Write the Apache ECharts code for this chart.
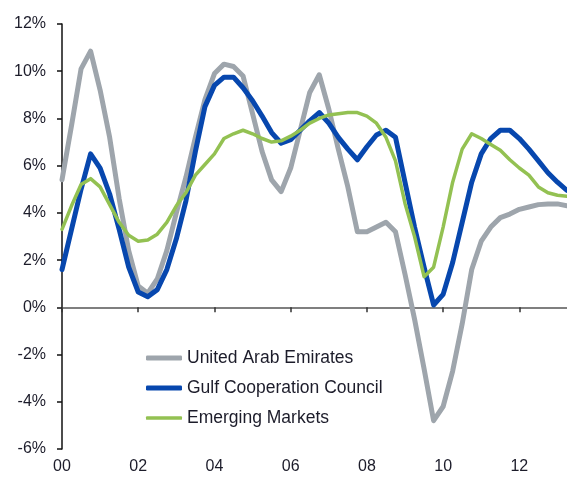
<!DOCTYPE html>
<html>
<head>
<meta charset="utf-8">
<script src="https://cdn.jsdelivr.net/npm/echarts@6/dist/echarts.min.js"></script>
<style>
html,body{margin:0;padding:0;background:#fff;}
#chart{width:567px;height:477px;}
</style>
</head>
<body>
<div id="chart"></div>
<script>
// Year tick labels (quarterly data, 2000Q1 - 2013Q2)
var yearLabels = ['00','01','02','03','04','05','06','07','08','09','10','11','12','13'];
var quarterNames = ['Q1','Q2','Q3','Q4'];
var quarters = [];
yearLabels.forEach(function (y, i) {
  var n = (i === yearLabels.length - 1) ? 2 : 4;
  for (var q = 0; q < n; q++) quarters.push(y + quarterNames[q]);
});

var seriesNames = ['United Arab Emirates', 'Gulf Cooperation Council', 'Emerging Markets'];

// United Arab Emirates (% y/y)
var uae = [5.4, 7.7, 10.1, 10.85, 9.2, 7.2, 4.6, 2.4,
           0.9, 0.6, 1.2, 2.4, 4.0, 5.5, 7.2, 8.8,
           9.9, 10.3, 10.2, 9.8, 8.2, 6.6, 5.4, 4.9,
           5.9, 7.5, 9.1, 9.85, 8.4, 6.7, 5.1, 3.2,
           3.2, 3.4, 3.6, 3.2, 1.4, -0.5, -2.6, -4.8,
           -4.2, -2.7, -0.7, 1.6, 2.8, 3.4, 3.8, 3.95,
           4.15, 4.25, 4.35, 4.38, 4.38, 4.3];

// Gulf Cooperation Council
var gcc = [1.6, 3.3, 5.0, 6.5, 5.9, 4.8, 3.3, 1.7,
           0.65, 0.45, 0.75, 1.6, 2.9, 4.5, 6.6, 8.5,
           9.4, 9.75, 9.75, 9.3, 8.75, 8.1, 7.4, 6.95,
           7.1, 7.5, 7.9, 8.25, 7.8, 7.2, 6.7, 6.25,
           6.8, 7.3, 7.5, 7.2, 5.3, 3.4, 1.7, 0.1,
           0.55, 1.9, 3.6, 5.3, 6.5, 7.15, 7.5, 7.5,
           7.15, 6.7, 6.2, 5.7, 5.3, 4.95];

// Emerging Markets
var em = [3.3, 4.3, 5.2, 5.45, 5.1, 4.35, 3.6, 3.05,
          2.8, 2.85, 3.1, 3.6, 4.3, 4.85, 5.6, 6.05,
          6.5, 7.15, 7.35, 7.5, 7.35, 7.15, 7.0, 7.05,
          7.25, 7.5, 7.8, 8.0, 8.15, 8.2, 8.25, 8.25,
          8.1, 7.8, 7.2, 6.2, 4.4, 3.0, 1.3, 1.7,
          3.4, 5.3, 6.7, 7.35, 7.15, 6.9, 6.65, 6.25,
          5.9, 5.6, 5.1, 4.85, 4.75, 4.7];

var colors = ['#9ea5ac', '#0747ae', '#93c152'];
var widths = [5, 5, 3.5];
var textColor = '#1c1c2a';
var fontFamily = '"Liberation Sans", Arial, sans-serif';

function isTick(index) { return index % 8 === 0; }

var chart = echarts.init(document.getElementById('chart'), null, {renderer: 'canvas'});

function legendFor(i, top, h) {
  return {
    data: [seriesNames[i]],
    left: 146,
    top: top,
    padding: 0,
    icon: 'roundRect',
    itemWidth: 36,
    itemHeight: h,
    selectedMode: false,
    textStyle: {fontSize: 17.5, color: textColor, fontFamily: fontFamily}
  };
}

var option = {
  animation: false,
  backgroundColor: '#ffffff',
  color: colors,
  grid: {left: 62, right: 0, top: 24, bottom: 28, containLabel: false},
  legend: [legendFor(0, 349, 5), legendFor(1, 379, 5), legendFor(2, 409, 3.5)],
  xAxis: [
    {
      type: 'category', data: quarters, boundaryGap: false, position: 'bottom',
      axisLine: {show: false, onZero: false},
      axisTick: {show: false},
      splitLine: {show: false},
      axisLabel: {
        interval: function (index) { return isTick(index); },
        formatter: function (v) { return v.slice(0, 2); },
        margin: 10, fontSize: 16, color: textColor, fontFamily: fontFamily
      }
    },
    {
      type: 'category', data: quarters, boundaryGap: false, position: 'bottom',
      axisLine: {show: true, onZero: true, lineStyle: {color: '#555', width: 1.5}},
      axisTick: {show: true, interval: function (index) { return isTick(index); }, length: 5, lineStyle: {color: '#333', width: 1.5}},
      axisLabel: {show: false},
      splitLine: {show: false}
    }
  ],
  yAxis: {
    type: 'value', min: -6, max: 12, interval: 2,
    axisLine: {show: true, lineStyle: {color: '#111', width: 1.5}},
    axisTick: {show: true, length: 5, lineStyle: {color: '#111', width: 1.5}},
    splitLine: {show: false},
    axisLabel: {formatter: '{value}%', margin: 16, fontSize: 16, color: textColor, fontFamily: fontFamily}
  },
  series: [uae, gcc, em].map(function (d, i) {
    return {
      name: seriesNames[i], type: 'line', data: d, xAxisIndex: 0,
      symbol: 'none', smooth: false,
      lineStyle: {color: colors[i], width: widths[i], join: 'round', cap: 'round'},
      itemStyle: {color: colors[i]},
      z: 2 + i
    };
  })
};
chart.setOption(option);
</script>
</body>
</html>
